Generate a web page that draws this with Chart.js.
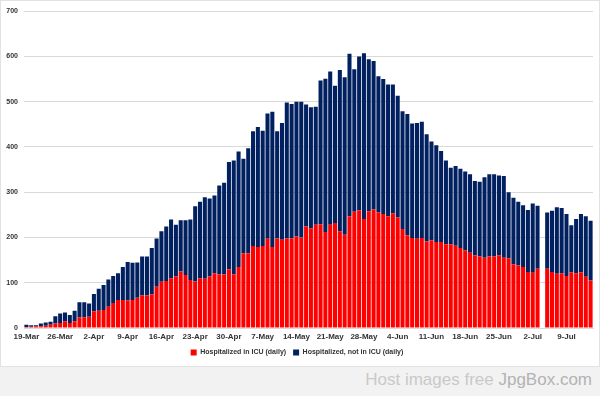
<!DOCTYPE html>
<html>
<head>
<meta charset="utf-8">
<script src="https://cdn.jsdelivr.net/npm/chart.js@4/dist/chart.umd.min.js"></script>
<style>
  html, body { margin: 0; padding: 0; background: #f2f2f2; }
  body { width: 600px; height: 396px; position: relative; overflow: hidden; font-family: "Liberation Sans", Arial, sans-serif; }
  #card { position: absolute; left: 0; top: 0; width: 598px; height: 365px; background: #fff; border: 1px solid #e2e2e2; }
  #wrap { position: absolute; left: 0; top: 0; width: 598px; height: 365px; }
  #wm { position: absolute; right: 8px; top: 370px; font-size: 17px; color: #c9c9c9; font-family: "Liberation Sans", Arial, sans-serif; white-space: nowrap; }
  #wm b { font-weight: normal; color: #b3b3b3; }
</style>
</head>
<body>
<div id="card"><div id="wrap"><canvas id="c"></canvas></div></div>
<div id="wm">Host images free <b>JpgBox.com</b></div>
<script>
const dates = [
 '19-Mar','20-Mar','21-Mar','22-Mar','23-Mar','24-Mar','25-Mar','26-Mar','27-Mar','28-Mar','29-Mar','30-Mar','31-Mar',
 '1-Apr','2-Apr','3-Apr','4-Apr','5-Apr','6-Apr','7-Apr','8-Apr','9-Apr','10-Apr','11-Apr','12-Apr','13-Apr','14-Apr','15-Apr',
 '16-Apr','17-Apr','18-Apr','19-Apr','20-Apr','21-Apr','22-Apr','23-Apr','24-Apr','25-Apr','26-Apr','27-Apr','28-Apr','29-Apr','30-Apr',
 '1-May','2-May','3-May','4-May','5-May','6-May','7-May','8-May','9-May','10-May','11-May','12-May','13-May','14-May','15-May',
 '16-May','17-May','18-May','19-May','20-May','21-May','22-May','23-May','24-May','25-May','26-May','27-May','28-May','29-May',
 '30-May','31-May','1-Jun','2-Jun','3-Jun','4-Jun','5-Jun','6-Jun','7-Jun','8-Jun','9-Jun','10-Jun','11-Jun','12-Jun','13-Jun',
 '14-Jun','15-Jun','16-Jun','17-Jun','18-Jun','19-Jun','20-Jun','21-Jun','22-Jun','23-Jun','24-Jun','25-Jun','26-Jun','27-Jun',
 '28-Jun','29-Jun','30-Jun','1-Jul','2-Jul','3-Jul','4-Jul','5-Jul','6-Jul','7-Jul','8-Jul','9-Jul','10-Jul','11-Jul','12-Jul',
 '13-Jul','14-Jul'
];

const icu = [
 2,3,4,4,5,7,10,11,15,11,15,23,24,25,37,38,40,47,55,62,62,61,62,67,72,72,74,91,102,104,
 110,114,125,117,106,103,110,109,114,121,119,118,130,118,135,165,165,181,179,181,197,179,198,195,198,198,202,200,224,220,
 228,229,212,228,232,214,206,247,257,260,241,258,262,256,252,247,253,244,219,205,199,197,199,191,194,190,190,185,185,182,
 177,171,166,160,158,155,158,158,161,155,154,141,138,135,124,122,131,null,131,124,120,121,115,123,121,123,113,105
];

const nonIcu = [
 5,3,2,6,7,7,16,21,19,18,23,34,33,29,38,49,55,60,60,59,73,85,82,78,86,86,103,107,112,120,
 130,114,113,121,134,166,169,180,172,172,196,203,237,252,255,209,232,254,265,255,277,299,237,258,300,297,298,300,270,268,
 261,318,339,339,303,356,348,359,315,340,366,336,328,300,298,291,285,269,260,268,253,256,257,237,218,214,201,185,169,176,
 175,175,174,165,165,178,182,182,176,181,146,147,141,136,137,153,139,null,124,135,147,144,137,104,120,129,134,132
];

const yTicks = [0,100,200,300,400,500,600,700];
const seriesNames = ['Hospitalized in ICU (daily)', 'Hospitalized, not in ICU (daily)'];

const fontFam = '"Liberation Sans", Arial, sans-serif';

new Chart(document.getElementById('c'), {
  type: 'bar',
  data: {
    labels: dates,
    datasets: [
      { label: seriesNames[0], data: icu, backgroundColor: '#ff0000', categoryPercentage: 0.84, barPercentage: 1.0 },
      { label: seriesNames[1], data: nonIcu, backgroundColor: '#002060', categoryPercentage: 0.84, barPercentage: 1.0 }
    ]
  },
  options: {
    responsive: true,
    maintainAspectRatio: false,
    animation: false,
    layout: { padding: { left: 0, right: 6, top: 6, bottom: 0 } },
    plugins: {
      tooltip: { enabled: false },
      legend: {
        position: 'bottom',
        labels: {
          boxWidth: 6, boxHeight: 6, padding: 7,
          color: '#333', font: { family: fontFam, size: 7, weight: 'bold' }
        }
      }
    },
    scales: {
      x: {
        stacked: true,
        afterFit: function(s) { s.height = 14; },
        grid: { display: false, drawTicks: false },
        border: { display: true, color: '#d9d9d9' },
        ticks: {
          autoSkip: false, maxRotation: 0, minRotation: 0, padding: 4,
          color: '#333', font: { family: fontFam, size: 8, weight: 'bold' },
          callback: function(v, i) { return i % 7 === 0 ? dates[i] : ''; }
        }
      },
      y: {
        stacked: true,
        min: 0, max: 700,
        afterFit: function(s) { s.width = 23; },
        afterBuildTicks: function(s) { s.ticks = yTicks.map(v => ({ value: v })); },
        grid: { color: '#d9d9d9', drawTicks: false },
        border: { display: false },
        ticks: {
          padding: 6,
          color: '#333', font: { family: fontFam, size: 7, weight: 'bold' }
        }
      }
    }
  }
});
</script>
</body>
</html>
